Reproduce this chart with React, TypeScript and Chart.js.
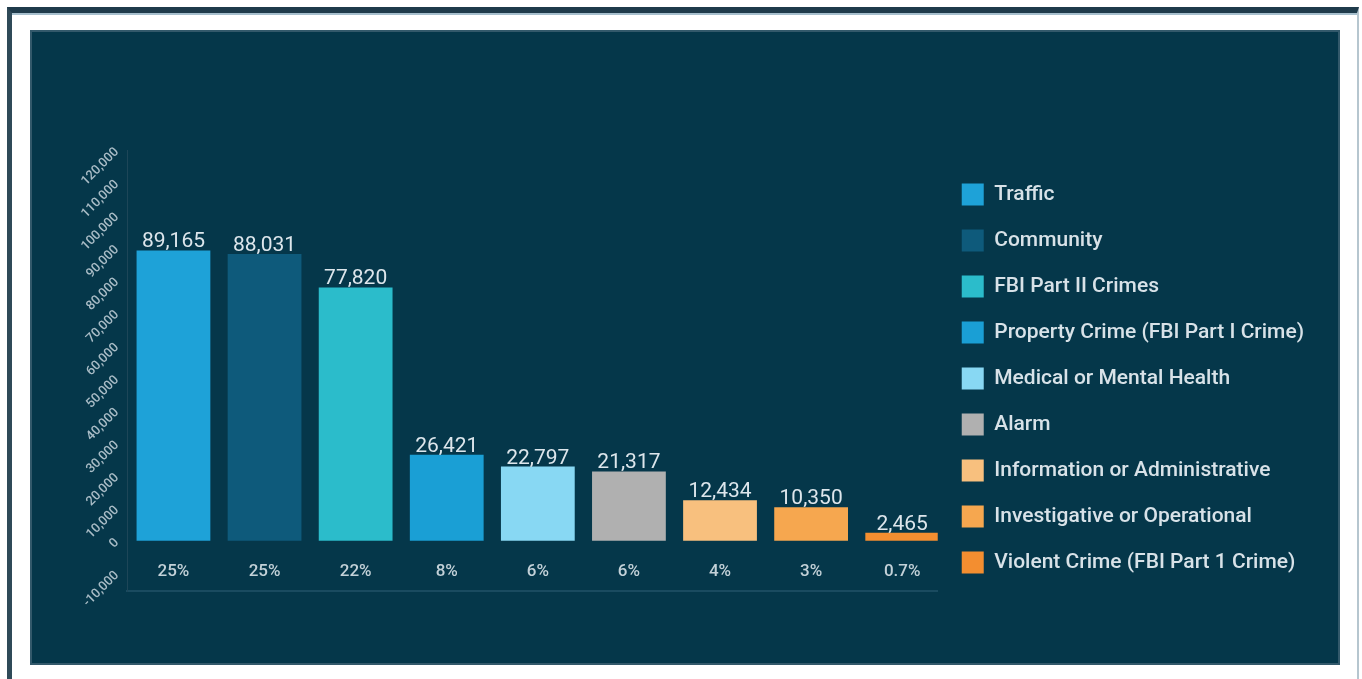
import React, { useEffect, useRef } from 'react';
import { Chart, registerables } from 'chart.js';

Chart.register(...registerables);

const categories = [
  'Traffic',
  'Community',
  'FBI Part II Crimes',
  'Property Crime (FBI Part I Crime)',
  'Medical or Mental Health',
  'Alarm',
  'Information or Administrative',
  'Investigative or Operational',
  'Violent Crime (FBI Part 1 Crime)',
];
const counts = [89165, 88031, 77820, 26421, 22797, 21317, 12434, 10350, 2465];
const shares = ['25%', '25%', '22%', '8%', '6%', '6%', '4%', '3%', '0.7%'];
const barColors = [
  '#1ea2d8',
  '#0e5a7b',
  '#2bbccb',
  '#1a9fd5',
  '#88d8f3',
  '#b0b0b0',
  '#f8c07e',
  '#f6a74f',
  '#f38e30',
];
const yTickValues = [
  -10000, 0, 10000, 20000, 30000, 40000, 50000, 60000, 70000, 80000, 90000, 100000, 110000, 120000,
];
const yMin = -15400;
const yMax = 120000;

const fmt = (v: number) => Number(v).toLocaleString('en-US');

const barLabelPlugin = {
  id: 'barLabels',
  afterDatasetsDraw(chart: any) {
    const { ctx, chartArea } = chart;
    const meta = chart.getDatasetMeta(0);
    ctx.save();
    ctx.textAlign = 'center';
    meta.data.forEach((bar: any, i: number) => {
      ctx.fillStyle = '#dde6ec';
      ctx.font = '21px Roboto';
      ctx.textBaseline = 'alphabetic';
      ctx.fillText(fmt(counts[i]), bar.x, bar.y - 3);
      ctx.fillStyle = '#c3d1d8';
      ctx.font = '500 17px Roboto';
      ctx.textBaseline = 'middle';
      ctx.fillText(shares[i], bar.x, chartArea.bottom - 19);
    });
    ctx.restore();
  },
};

function BarChart() {
  const ref = useRef<HTMLCanvasElement | null>(null);
  useEffect(() => {
    if (!ref.current) return;
    const chart = new Chart(ref.current, {
      type: 'bar',
      data: {
        datasets: [
          {
            label: 'Calls',
            data: counts.map((v, i) => ({ x: i, y: v })),
            backgroundColor: barColors,
            borderWidth: 0,
            barPercentage: 0.81,
            categoryPercentage: 1,
          },
        ],
      },
      options: {
        responsive: false,
        animation: false,
        devicePixelRatio: 1,
        layout: { padding: { top: 82, bottom: 20, left: 0, right: 24 } },
        scales: {
          x: {
            type: 'linear',
            min: -0.51,
            max: 8.39,
            offset: false,
            grid: { display: false, drawTicks: false, offset: false },
            border: { display: true, color: '#1a4b60', width: 2 },
            ticks: { display: false },
            afterFit: (s: any) => {
              s.height = 52;
            },
          },
          y: {
            type: 'linear',
            min: yMin,
            max: yMax,
            grid: { display: false, drawTicks: false },
            border: { display: true, color: '#1d4658', width: 1 },
            ticks: {
              autoSkip: false,
              color: '#a9bcc6',
              font: { family: 'Roboto', size: 13, weight: '500' },
              padding: 10,
              minRotation: 45,
              maxRotation: 45,
              callback: (v: any) => fmt(v),
            },
            afterBuildTicks: (s: any) => {
              s.ticks = yTickValues.map((v) => ({ value: v }));
            },
            afterFit: (s: any) => {
              s.width = 95;
            },
          },
        },
        plugins: {
          title: {
            display: true,
            text: ' ',
            fullSize: false,
            font: { size: 10 },
            padding: { top: 12, bottom: 12 },
          },
          tooltip: { enabled: false },
          legend: {
            position: 'right',
            align: 'center',
            maxWidth: 500,
            labels: {
              boxWidth: 22,
              boxHeight: 22,
              padding: 24,
              color: '#d8e2e8',
              font: { family: 'Roboto', size: 21, weight: '500' },
              generateLabels: () =>
                categories.map((c, i) => ({
                  text: c,
                  fillStyle: barColors[i],
                  strokeStyle: barColors[i],
                  fontColor: '#d8e2e8',
                  lineWidth: 0,
                  hidden: false,
                  index: i,
                  datasetIndex: 0,
                })),
            },
          },
        },
      } as any,
      plugins: [barLabelPlugin],
    });
    return () => chart.destroy();
  }, []);
  return <canvas ref={ref} width={1306} height={631} style={{ display: 'block' }} />;
}

export default function App() {
  return (
    <div>
      <div
        style={{
          position: 'fixed',
          left: 7,
          top: 7,
          right: 3,
          bottom: -20,
          background: '#ffffff',
          borderTop: '6px solid #1f3b4b',
          borderLeft: '5px solid #2f4a58',
          borderRight: '2px solid #b6c6cf',
          boxSizing: 'border-box',
        }}
      />
      <div
        style={{
          position: 'fixed',
          left: 12,
          top: 13,
          right: 5,
          height: 2,
          background: '#a6bfcd',
        }}
      />
      <div
        style={{
          position: 'fixed',
          left: 30,
          top: 30,
          width: 1310,
          height: 635,
          boxSizing: 'border-box',
          background: '#05374a',
          border: '2px solid #33596b',
        }}
      >
        <BarChart />
      </div>
    </div>
  );
}
